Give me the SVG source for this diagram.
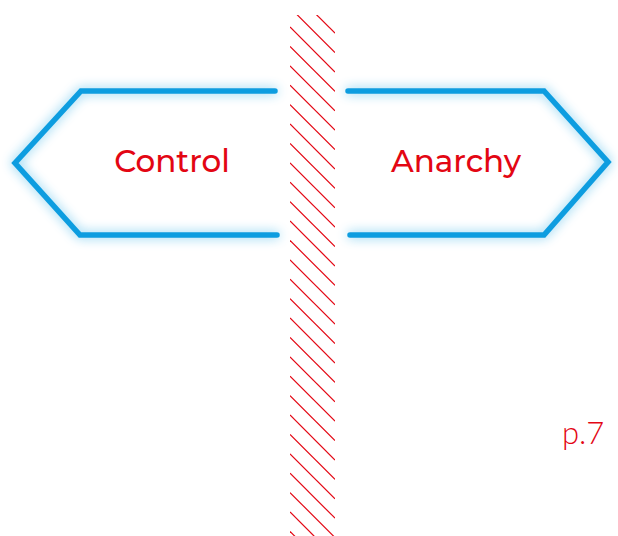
<svg xmlns="http://www.w3.org/2000/svg" width="618" height="536" viewBox="0 0 618 536">
<defs>
<style>
.sign{fill:none;stroke:#0d9de0;stroke-width:5.5;stroke-linecap:round;stroke-linejoin:miter;filter:url(#glow)}
.lbl{font-family:"Montserrat","Noto Sans","Liberation Sans",sans-serif;font-weight:500;font-size:31px;fill:#e30613;text-anchor:middle}
.hatch line{stroke:#e30613;stroke-width:1.2}
</style>
<filter id="glow" x="-20%" y="-30%" width="140%" height="160%">
<feGaussianBlur in="SourceGraphic" stdDeviation="6" result="b"/>
<feComponentTransfer in="b" result="b2"><feFuncA type="linear" slope="0.55"/></feComponentTransfer>
<feMerge><feMergeNode in="b2"/><feMergeNode in="SourceGraphic"/></feMerge>
</filter>
<clipPath id="strip"><rect x="290" y="15" width="45" height="521"/></clipPath>
</defs>
<rect width="618" height="536" fill="#ffffff"/>
<g id="post" class="hatch" clip-path="url(#strip)">
<line x1="290" y1="-31.2" x2="335" y2="13.8"/>
<line x1="290" y1="-11.8" x2="335" y2="33.2"/>
<line x1="290" y1="7.6" x2="335" y2="52.6"/>
<line x1="290" y1="27" x2="335" y2="72"/>
<line x1="290" y1="46.4" x2="335" y2="91.4"/>
<line x1="290" y1="65.8" x2="335" y2="110.8"/>
<line x1="290" y1="85.2" x2="335" y2="130.2"/>
<line x1="290" y1="104.6" x2="335" y2="149.6"/>
<line x1="290" y1="124" x2="335" y2="169"/>
<line x1="290" y1="143.4" x2="335" y2="188.4"/>
<line x1="290" y1="162.8" x2="335" y2="207.8"/>
<line x1="290" y1="182.2" x2="335" y2="227.2"/>
<line x1="290" y1="201.6" x2="335" y2="246.6"/>
<line x1="290" y1="221" x2="335" y2="266"/>
<line x1="290" y1="240.4" x2="335" y2="285.4"/>
<line x1="290" y1="259.8" x2="335" y2="304.8"/>
<line x1="290" y1="279.2" x2="335" y2="324.2"/>
<line x1="290" y1="298.6" x2="335" y2="343.6"/>
<line x1="290" y1="318" x2="335" y2="363"/>
<line x1="290" y1="337.4" x2="335" y2="382.4"/>
<line x1="290" y1="356.8" x2="335" y2="401.8"/>
<line x1="290" y1="376.2" x2="335" y2="421.2"/>
<line x1="290" y1="395.6" x2="335" y2="440.6"/>
<line x1="290" y1="415" x2="335" y2="460"/>
<line x1="290" y1="434.4" x2="335" y2="479.4"/>
<line x1="290" y1="453.8" x2="335" y2="498.8"/>
<line x1="290" y1="473.2" x2="335" y2="518.2"/>
<line x1="290" y1="492.6" x2="335" y2="537.6"/>
<line x1="290" y1="512" x2="335" y2="557"/>
<line x1="290" y1="531.4" x2="335" y2="576.4"/>
</g>
<g id="control">
<polyline class="sign" points="275,91 81,91 15,163 80,235 277,235"/>
<text class="lbl" x="172" y="172">Control</text>
</g>
<g id="anarchy">
<polyline class="sign" points="348,91 544,91 608,162 544,235 350,235"/>
<text class="lbl" x="456" y="172">Anarchy</text>
</g>
<g id="page">
<text x="562" y="444" style="font-family:Lato,'Noto Sans','Liberation Sans',sans-serif;font-weight:300;font-size:31px;fill:#e30613">p.7</text>
</g>
</svg>
